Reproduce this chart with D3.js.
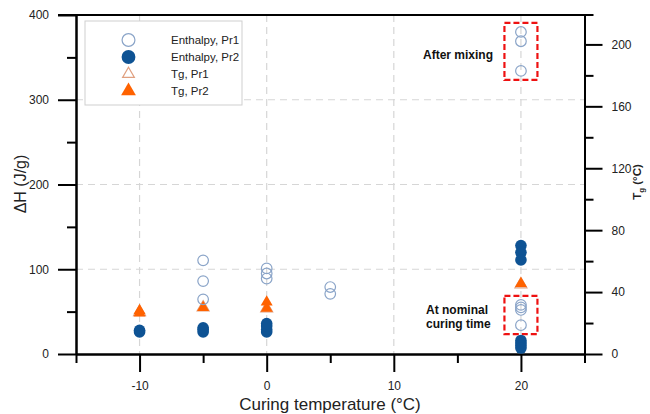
<!DOCTYPE html>
<html>
<head>
<meta charset="utf-8">
<script src="https://cdn.jsdelivr.net/npm/d3@7"></script>
<style>
  body { margin: 0; background: #fff; }
  svg { font-family: "Liberation Sans", Arial, sans-serif; }
  .axis path, .axis line { stroke: #000; stroke-width: 2; }
  .axis text { font-size: 12px; fill: #222; }
</style>
</head>
<body>
<svg id="chart" width="650" height="414"></svg>
<script>
// data: [curing temperature, value]
const enthalpyPr1 = [
  [-5, 110.5], [-5, 86], [-5, 64.5],
  [0, 101], [0, 95], [0, 89],
  [5, 79], [5, 71],
  [20, 380], [20, 369], [20, 334],
  [20, 58], [20, 55], [20, 52], [20, 34]
];
const enthalpyPr2 = [
  [-10, 26], [-10, 28],
  [-5, 26], [-5, 29], [-5, 31],
  [0, 26], [0, 29], [0, 33], [0, 36],
  [20, 128], [20, 120], [20, 111],
  [20, 16], [20, 13], [20, 10], [20, 7]
];
const tgPr1 = [[-10, 27], [-5, 30], [0, 29.5], [20, 45]];
const tgPr2 = [[-10, 26.5], [-10, 28], [-5, 30], [0, 29.5], [0, 33.5], [20, 45.5]];

const xMajor = [-10, 0, 10, 20];
const xMinor = [-15, -5, 5, 15, 25];
const yMajor = [0, 100, 200, 300, 400];
const yMinor = [50, 150, 250, 350];
const tgMajor = [0, 40, 80, 120, 160, 200];
const tgMinor = [20, 60, 100, 140, 180];
const gridX = [-10, 0, 10, 20];
const gridY = [100, 200, 300];

const legendItems = [
  { label: 'Enthalpy, Pr1', shape: 'circle', fill: 'none', stroke: '#8aa4c8' },
  { label: 'Enthalpy, Pr2', shape: 'circle', fill: '#0e5394', stroke: '#0e5394' },
  { label: 'Tg, Pr1', shape: 'triangle', fill: 'none', stroke: '#e0a080' },
  { label: 'Tg, Pr2', shape: 'triangle', fill: '#ff6200', stroke: '#ff6200' }
];

const svg = d3.select('#chart');
const pLeft = 76, pRight = 584.5, pTop = 15, pBottom = 354;

const x = d3.scaleLinear().domain([-15, 25]).range([pLeft, pRight]);
const y = d3.scaleLinear().domain([0, 400]).range([pBottom, pTop]);
const yTg = d3.scaleLinear().domain([0, 219]).range([pBottom, pTop]);

// grid
svg.append('g').selectAll('line').data(gridX).join('line')
  .attr('x1', d => x(d)).attr('x2', d => x(d))
  .attr('y1', pTop).attr('y2', pBottom)
  .attr('stroke', '#d6d6d6').attr('stroke-width', 1.2).attr('stroke-dasharray', '7,5');
svg.append('g').selectAll('line').data(gridY).join('line')
  .attr('x1', pLeft).attr('x2', pRight)
  .attr('y1', d => y(d)).attr('y2', d => y(d))
  .attr('stroke', '#d6d6d6').attr('stroke-width', 1.2).attr('stroke-dasharray', '7,5');

// axes: minor ticks without labels, major ticks with labels
function axisPair(gen, scale, major, minor, transform) {
  svg.append('g').attr('class', 'axis').attr('transform', transform)
    .call(gen(scale).tickValues(minor).tickSize(9).tickSizeOuter(0).tickFormat(''));
  svg.append('g').attr('class', 'axis').attr('transform', transform)
    .call(gen(scale).tickValues(major).tickSize(18).tickSizeOuter(0).tickPadding(9).tickFormat(d => String(d)));
}
axisPair(d3.axisBottom, x, xMajor, xMinor, `translate(0,${pBottom})`);
axisPair(d3.axisLeft, y, yMajor, yMinor, `translate(${pLeft},0)`);
axisPair(d3.axisRight, yTg, tgMajor, tgMinor, `translate(${pRight},0)`);

// top frame
svg.append('line').attr('x1', pLeft - 18).attr('x2', pRight + 9).attr('y1', pTop).attr('y2', pTop)
  .attr('stroke', '#000').attr('stroke-width', 2);

// axis titles
svg.append('text').attr('x', 330).attr('y', 410).attr('text-anchor', 'middle')
  .attr('font-size', 17).attr('fill', '#222').text('Curing temperature (°C)');
svg.append('text').attr('transform', 'translate(26,184) rotate(-90)').attr('text-anchor', 'middle')
  .attr('font-size', 16).attr('fill', '#222').text('ΔH (J/g)');
const tgTitle = svg.append('text').attr('transform', 'translate(641,182) rotate(-90)')
  .attr('text-anchor', 'middle').attr('font-size', 11.5).attr('font-weight', 'bold').attr('fill', '#222');
tgTitle.append('tspan').text('T');
tgTitle.append('tspan').attr('font-size', 8).attr('dy', 3).text('g');
tgTitle.append('tspan').attr('dy', -3).text(' (°C)');

// highlight boxes
const boxes = [[334, 380], [34, 58]];
svg.append('g').selectAll('rect').data(boxes).join('rect')
  .attr('x', x(20) - 16.5).attr('width', 33)
  .attr('y', d => y(d[1]) - 9).attr('height', d => y(d[0]) - y(d[1]) + 18)
  .attr('fill', 'none').attr('stroke', '#ee1111').attr('stroke-width', 2.2).attr('stroke-dasharray', '6,3');

svg.append('text').attr('x', 493).attr('y', 59).attr('text-anchor', 'end')
  .attr('font-size', 12).attr('font-weight', 'bold').attr('fill', '#111').text('After mixing');
svg.append('text').attr('x', 426).attr('y', 314)
  .attr('font-size', 12).attr('font-weight', 'bold').attr('fill', '#111').text('At nominal');
svg.append('text').attr('x', 426).attr('y', 328)
  .attr('font-size', 12).attr('font-weight', 'bold').attr('fill', '#111').text('curing time');

// marks
const tri = d3.symbol().type(d3.symbolTriangle).size(62);
svg.append('g').selectAll('path').data(tgPr1).join('path')
  .attr('d', tri).attr('transform', d => `translate(${x(d[0])},${yTg(d[1])})`)
  .attr('fill', 'none').attr('stroke', '#e0a080').attr('stroke-width', 1.2);
svg.append('g').selectAll('path').data(tgPr2).join('path')
  .attr('d', tri).attr('transform', d => `translate(${x(d[0])},${yTg(d[1])})`)
  .attr('fill', '#ff6200');
svg.append('g').selectAll('circle').data(enthalpyPr2).join('circle')
  .attr('cx', d => x(d[0])).attr('cy', d => y(d[1])).attr('r', 5.8)
  .attr('fill', '#0e5394');
svg.append('g').selectAll('circle').data(enthalpyPr1).join('circle')
  .attr('cx', d => x(d[0])).attr('cy', d => y(d[1])).attr('r', 5.3)
  .attr('fill', 'none').attr('stroke', '#8aa4c8').attr('stroke-width', 1.2);

// legend
const lg = svg.append('g');
lg.append('rect').attr('x', 85).attr('y', 21).attr('width', 157).attr('height', 84)
  .attr('fill', '#fff').attr('stroke', '#cfcfcf');
const rows = lg.selectAll('g').data(legendItems).join('g')
  .attr('transform', (d, i) => `translate(0,${40 + i * 17})`);
rows.append('path')
  .attr('d', d => d.shape === 'circle'
    ? d3.symbol().type(d3.symbolCircle).size(d.fill === 'none' ? 130 : 150)()
    : d3.symbol().type(d3.symbolTriangle).size(d.fill === 'none' ? 60 : 95)())
  .attr('transform', 'translate(128.5,0)')
  .attr('fill', d => d.fill).attr('stroke', d => d.fill === 'none' ? d.stroke : 'none')
  .attr('stroke-width', 1.2);
rows.append('text').attr('x', 171).attr('dy', '0.35em')
  .attr('font-size', 11.5).attr('fill', '#222').text(d => d.label);
</script>
</body>
</html>
